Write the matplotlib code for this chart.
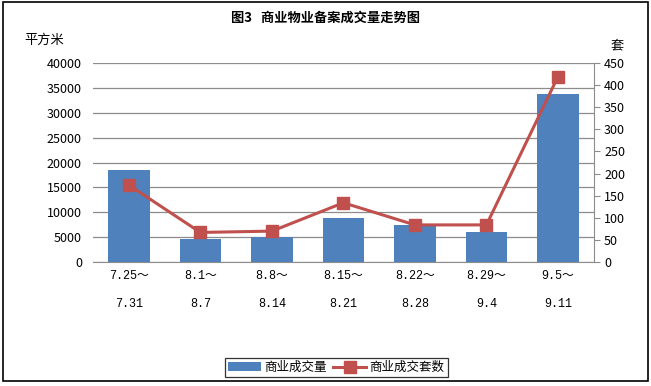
import matplotlib.pyplot as plt
from matplotlib.patches import Rectangle

plt.rcParams['font.family'] = ['Noto Sans CJK SC', 'DejaVu Sans']

periods = ["7.25～\n\n7.31", "8.1～\n\n8.7", "8.8～\n\n8.14", "8.15～\n\n8.21",
           "8.22～\n\n8.28", "8.29～\n\n9.4", "9.5～\n\n9.11"]
area = [18500, 4700, 5000, 8850, 7400, 6000, 33800]
units = [174, 67, 70, 134, 84, 84, 419]

bar_color = '#4f81bd'
line_color = '#c0504d'

fig = plt.figure(figsize=(6.51, 3.86), dpi=100)
fig.patches.append(Rectangle((0.004, 0.012), 0.992, 0.982, transform=fig.transFigure,
                             fill=False, edgecolor='black', linewidth=1.2))

ax = fig.add_axes([0.143, 0.321, 0.769, 0.516])
x = range(len(periods))
ax.bar(x, area, width=0.58, color=bar_color, zorder=2, label='商业成交量')
ax.set_ylim(0, 40000)
ax.set_yticks(range(0, 40001, 5000))
ax.set_xlim(-0.5, len(periods) - 0.5)
ax.set_xticks(list(x))
ax.set_xticklabels(periods, fontsize=8.5, family=['Liberation Mono', 'Noto Sans CJK SC'])
ax.tick_params(axis='x', length=0, pad=6)
ax.tick_params(axis='y', length=0, labelsize=9, pad=8)
ax.grid(axis='y', color='#8c8c8c', linewidth=0.9, zorder=0)
for s in ['top', 'left', 'right']:
    ax.spines[s].set_visible(False)
ax.spines['bottom'].set_color('#8c8c8c')

ax2 = ax.twinx()
ax2.plot(x, units, color=line_color, linewidth=2.2, marker='s', markersize=8,
         label='商业成交套数', zorder=3)
ax2.set_ylim(0, 450)
ax2.set_yticks(range(0, 451, 50))
ax2.tick_params(axis='y', labelsize=9, length=4, color='#8c8c8c')
for s in ['top', 'left', 'bottom']:
    ax2.spines[s].set_visible(False)
ax2.spines['right'].set_color('#8c8c8c')

fig.text(0.5, 0.955, '图3   商业物业备案成交量走势图', ha='center', va='center',
         fontsize=9.5, fontweight='bold')
fig.text(0.068, 0.895, '平方米', ha='center', va='center', fontsize=9.5)
fig.text(0.948, 0.882, '套', ha='center', va='center', fontsize=9.5)

h1, l1 = ax.get_legend_handles_labels()
h2, l2 = ax2.get_legend_handles_labels()
leg = fig.legend(h1 + h2, l1 + l2, loc='center', bbox_to_anchor=(0.517, 0.048), ncol=2,
                 fontsize=9, frameon=True, fancybox=False, edgecolor='black',
                 handlelength=2.6, columnspacing=0.5, handletextpad=0.3,
                 borderpad=0.25)
leg.get_frame().set_linewidth(0.9)

fig.savefig('out.png', dpi=100)
